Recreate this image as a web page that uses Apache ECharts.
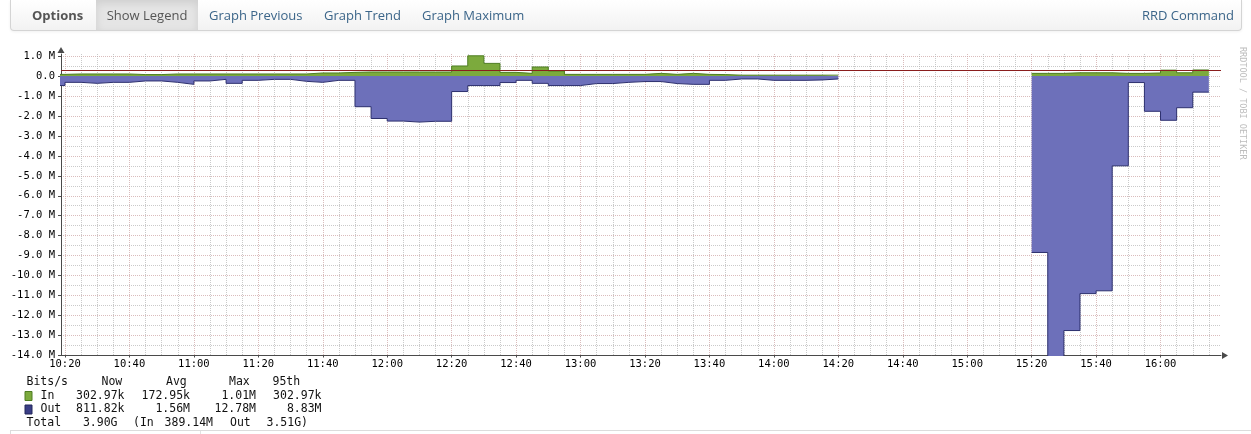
<!DOCTYPE html>
<html>
<head>
<meta charset="utf-8">
<script src="https://cdn.jsdelivr.net/npm/echarts@6/dist/echarts.min.js"></script>
<style>
html,body{margin:0;padding:0;background:#fff;width:1251px;height:434px;overflow:hidden;}
#chart{position:absolute;left:0;top:0;width:1251px;height:434px;}
#nav{position:absolute;left:10px;top:0;width:1230px;height:30px;border:1px solid #d4d4d4;border-top:none;border-radius:0 0 4px 4px;background:linear-gradient(#ffffff,#f2f2f2);box-shadow:0 1px 3px rgba(0,0,0,0.06);font-family:'Open Sans',sans-serif;font-size:13px;z-index:2;}
#nav span{position:absolute;top:0;line-height:30px;white-space:nowrap;color:#3b6589;}
#nav .brand{left:21px;font-weight:bold;color:#555;}
#nav .active{left:85px;width:102px;text-align:center;background:#e5e5e5;color:#555;box-shadow:inset 0 3px 8px rgba(0,0,0,0.10);}
#bottomline{position:absolute;left:10px;right:0;top:430px;height:6px;border-top:1px solid #dcdcdc;border-left:1px solid #dcdcdc;}
#bottomsep{position:absolute;left:200px;top:431px;height:5px;border-left:1px solid #e2e2e2;}
</style>
</head>
<body>
<div id="chart"></div>
<div id="nav">
  <span class="brand">Options</span>
  <span class="active">Show Legend</span>
  <span style="left:198px">Graph Previous</span>
  <span style="left:313px">Graph Trend</span>
  <span style="left:411px">Graph Maximum</span>
  <span style="right:7px">RRD Command</span>
</div>
<div id="bottomline"></div>
<div id="bottomsep"></div>
<script>
// ---------------- data ----------------
const viewStart = '10:18:46';
const viewEnd = '16:18:46';
const stepMinutes = 5;
const xTickLabels = ['10:20','10:40','11:00','11:20','11:40','12:00','12:20','12:40','13:00','13:20','13:40','14:00','14:20','14:40','15:00','15:20','15:40','16:00'];
const yTickValues = [1,0,-1,-2,-3,-4,-5,-6,-7,-8,-9,-10,-11,-12,-13,-14];

// segment 1: 5-minute samples starting 10:15 (Mbit/s)
const seg1Start = '10:15';
const in1 = [0.08,0.10,0.10,0.10,0.10,0.07,0.07,0.10,0.10,
             0.10,0.10,0.10,0.10,0.10,0.10,0.10,0.15,0.15,0.18,0.20,0.20,
             0.20,0.20,0.20,0.20,0.50,1.01,0.63,0.18,0.13,0.45,0.25,0.08,
             0.08,0.08,0.08,0.08,0.13,0.08,0.13,0.08,0.07,0.04,0.04,0.04,
             0.04,0.04,0.04,0.04];
const out1 = [0.48,0.32,0.37,0.32,0.32,0.25,0.25,0.32,0.42,
              0.25,0.17,0.37,0.22,0.17,0.17,0.27,0.32,0.22,0.22,1.54,2.13,
              2.26,2.31,2.27,2.27,0.78,0.48,0.48,0.33,0.22,0.37,0.48,0.48,
              0.38,0.38,0.32,0.28,0.28,0.38,0.42,0.42,0.22,0.15,0.15,0.22,
              0.22,0.22,0.20,0.15];
// segment 2: 5-minute samples starting 15:20
const seg2Start = '15:20';
const in2 = [0.13,0.13,0.16,0.16,0.16,0.13,0.13,0.15,0.29,0.16,0.30];
const out2 = [8.84,14.2,12.75,10.9,10.76,4.5,0.33,1.77,2.22,1.59,0.81];

const in95th = 0.30297;

// legend texts
const legendHeader = ['Bits/s','Now','Avg','Max','95th'];
const legendNames = ['In','Out'];
const statsIn = ['302.97k','172.95k','1.01M','302.97k'];
const statsOut = ['811.82k','1.56M','12.78M','8.83M'];
const totalsText = ['Total','3.90G','(In','389.14M','Out','3.51G)'];
const watermark = 'RRDTOOL / TOBI OETIKER';

// ---------------- helpers ----------------
function toMin(s){const p=s.split(':').map(Number);return p[0]*60+p[1]+(p[2]||0)/60;}
function pad(n){return (n<10?'0':'')+n;}
function buildSeg(start, vals, sign){
  const t0 = toMin(start);
  const d = vals.map((v,i)=>[t0+i*stepMinutes, sign*v]);
  d.push([t0+vals.length*stepMinutes, sign*vals[vals.length-1]]);
  return d;
}
const xMin = toMin(viewStart), xMax = toMin(viewEnd);
const majorX = xTickLabels.map(toMin);
const minorX = [];
for (let t=Math.ceil(xMin/stepMinutes)*stepMinutes; t<=xMax; t+=stepMinutes){ if (majorX.indexOf(t)<0) minorX.push(t); }
const yMin = -14, yMax = 1.1;
const minorY = yTickValues.slice(0,-1).map(v=>v-0.5);

const C = {
  inFill:'#7caa3d', inLine:'#4e7d22',
  outFill:'#6d70ba', outLine:'#2d306e',
  hrule:'#8b1e1e',
  major:'rgba(205,165,165,0.75)', minor:'rgba(180,180,180,0.7)',
  axis:'#4a4a4a', text:'#111'
};
const axisFont = '"DejaVu Sans Mono", monospace';
const legendFont = '11.5px "DejaVu Sans Mono", monospace';

function area(data, fill, stroke){
  return {type:'line', data, step:'end', symbol:'none', showSymbol:false, silent:true,
    xAxisIndex:0, yAxisIndex:0, clip:true, z:3,
    lineStyle:{color:stroke, width:1}, areaStyle:{color:fill, opacity:1, origin:'auto'}};
}

// legend graphics
const g = [];
function txt(x,y,text,align,font,fill){
  g.push({type:'text', x, y, silent:true, style:{text, font:font||legendFont, fill:fill||C.text, align:align||'left', verticalAlign:'middle'}});
}
const rowY = [382.5, 396, 409.5, 423];
const headerX = [26.5, 101.5, 166, 229, 272.5];
legendHeader.forEach((h,i)=>txt(headerX[i], rowY[0], h));
const colRight = [124.5, 190, 256, 321.5];
[[statsIn, C.inFill, '#4e7d22'], [statsOut, '#3a3e86', '#23265a']].forEach((r,ri)=>{
  const y = rowY[ri+1];
  g.push({type:'rect', silent:true, shape:{x:25, y:y-4.5, width:7, height:9}, style:{fill:r[1], stroke:r[2], lineWidth:1}});
  txt(40.5, y, legendNames[ri]);
  r[0].forEach((v,i)=>txt(colRight[i], y, v, 'right'));
});
txt(26.5, rowY[3], totalsText[0]);
txt(117.5, rowY[3], totalsText[1], 'right');
txt(133, rowY[3], totalsText[2]);
txt(213, rowY[3], totalsText[3], 'right');
txt(230, rowY[3], totalsText[4]);
txt(266.5, rowY[3], totalsText[5]);
g.push({type:'text', x:1242, y:47, rotation:-Math.PI/2, silent:true,
  style:{text:watermark, font:'8.5px "DejaVu Sans Mono", monospace', fill:'#bdbdbd', align:'left', verticalAlign:'middle'}});

const chart = echarts.init(document.getElementById('chart'), null, {renderer:'canvas'});
chart.setOption({
  animation:false,
  backgroundColor:'#fff',
  grid:{left:61, top:54, width:1160, height:301.5, containLabel:false, outerBoundsMode:'none', show:false},
  xAxis:[
    {type:'value', min:xMin, max:xMax, position:'bottom',
     axisLine:{show:true, onZero:false, lineStyle:{color:C.axis, width:1}, symbol:['none','triangle'], symbolSize:[7,6], symbolOffset:[0,4]},
     axisTick:{show:true, customValues:majorX, length:2, lineStyle:{color:C.axis}},
     axisLabel:{show:true, customValues:majorX, showMinLabel:true, showMaxLabel:true, hideOverlap:false,
       formatter:v=>xTickLabels[majorX.indexOf(v)] || (Math.floor(v/60)+':'+pad(Math.round(v%60))),
       fontFamily:axisFont, fontSize:10.5, color:'#000', margin:3},
     splitLine:{show:true, lineStyle:{color:C.major, width:1, type:[1,1]}},
     minorTick:{show:false}, minorSplitLine:{show:false}},
    {type:'value', min:xMin, max:xMax, position:'bottom',
     axisLine:{show:false, onZero:false}, axisTick:{show:false, customValues:minorX}, axisLabel:{show:false},
     splitLine:{show:true, lineStyle:{color:C.minor, width:1, type:[1,1]}}}
  ],
  yAxis:[
    {type:'value', min:yMin, max:yMax, position:'left',
     axisLine:{show:true, onZero:false, lineStyle:{color:C.axis, width:1}, symbol:['none','triangle'], symbolSize:[7,6], symbolOffset:[0,4]},
     axisTick:{show:true, customValues:yTickValues, length:3, lineStyle:{color:C.axis}},
     axisLabel:{show:true, customValues:yTickValues, showMinLabel:true, showMaxLabel:true, hideOverlap:false,
       formatter:v=> v===0 ? '0.0' : v.toFixed(1)+' M',
       fontFamily:axisFont, fontSize:10.5, color:'#000', margin:6},
     splitLine:{show:true, lineStyle:{color:C.major, width:1, type:[1,1]}}},
    {type:'value', min:yMin, max:yMax, position:'left',
     axisLine:{show:false, onZero:false}, axisTick:{show:false, customValues:minorY}, axisLabel:{show:false},
     splitLine:{show:true, lineStyle:{color:C.minor, width:1, type:[1,1]}}}
  ],
  series:[
    area(buildSeg(seg1Start, out1, -1), C.outFill, C.outLine),
    area(buildSeg(seg2Start, out2, -1), C.outFill, C.outLine),
    area(buildSeg(seg1Start, in1, 1), C.inFill, C.inLine),
    area(buildSeg(seg2Start, in2, 1), C.inFill, C.inLine),
    {type:'line', data:[], xAxisIndex:0, yAxisIndex:0, z:10, silent:true,
     markLine:{silent:true, symbol:['none','none'], label:{show:false}, animation:false,
       lineStyle:{color:C.hrule, width:1, type:'solid'}, data:[{yAxis:in95th}]}}
  ],
  graphic:g
});
</script>
</body>
</html>
